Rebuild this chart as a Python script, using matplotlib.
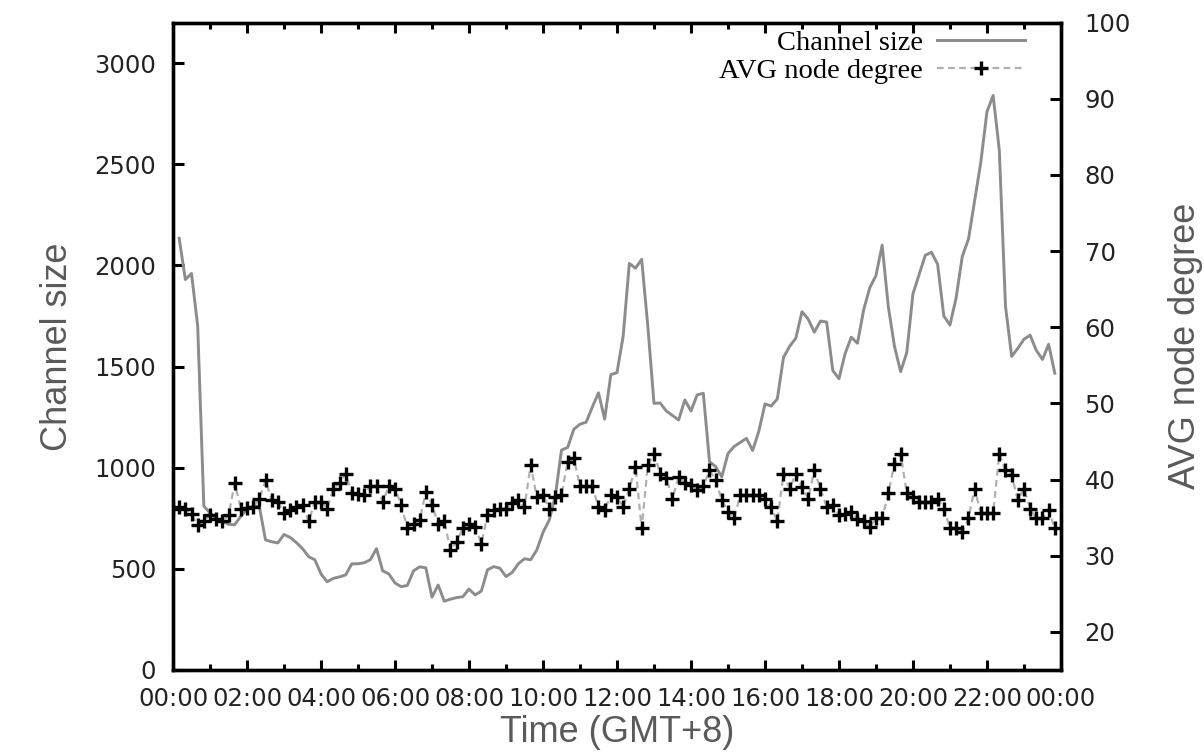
import numpy as np
import matplotlib
matplotlib.use("Agg")
import matplotlib.pyplot as plt
from matplotlib.ticker import MultipleLocator

# samples every 10 minutes, 00:00 .. 23:50
hours = np.arange(144) / 6.0

channel_size = [
    np.nan, 2134, 1930, 1960, 1700, 810, 776, 750, 735, 720,
    718, 760, 795, 810, 808, 643, 634, 628, 670, 655,
    630, 600, 560, 545, 475, 436, 453, 460, 470, 525,
    525, 530, 545, 600, 490, 475, 430, 412, 418, 490,
    510, 505, 360, 420, 340, 350, 358, 362, 400, 371,
    390, 495, 511, 503, 462, 482, 525, 550, 545, 593,
    680, 740, 860, 1087, 1100, 1190, 1215, 1225, 1300, 1370,
    1240, 1460, 1470, 1650, 2010, 1986, 2030, 1700, 1318, 1320,
    1280, 1258, 1236, 1335, 1280, 1360, 1368, 1030, 1005, 955,
    1070, 1105, 1125, 1145, 1085, 1180, 1315, 1305, 1340, 1545,
    1600, 1640, 1771, 1735, 1670, 1725, 1720, 1480, 1440, 1565,
    1645, 1615, 1780, 1890, 1950, 2100, 1796, 1600, 1475, 1570,
    1860, 1955, 2050, 2065, 2005, 1750, 1705, 1840, 2045, 2130,
    2320, 2510, 2760, 2840, 2570, 1800, 1550, 1590, 1635, 1655,
    1580, 1535, 1610, 1467,
]

avg_degree = [
    36.2, 36.4, 36.2, 35.5, 34.0, 34.6, 35.3, 34.8, 34.5, 35.3,
    39.5, 36.2, 36.3, 36.4, 37.5, 39.9, 37.3, 37.1, 35.6, 36.0,
    36.4, 36.7, 34.5, 37.1, 37.1, 36.2, 38.8, 39.5, 40.8, 38.2,
    38.1, 38.0, 39.1, 39.1, 37.1, 39.1, 38.8, 36.7, 33.6, 34.2,
    34.7, 38.4, 36.7, 34.2, 34.5, 30.7, 31.8, 33.6, 34.2, 33.8,
    31.6, 35.3, 36.0, 36.1, 36.2, 36.9, 37.3, 36.4, 41.9, 37.7,
    38.0, 36.2, 37.7, 38.0, 42.3, 42.8, 39.1, 39.1, 39.1, 36.4,
    36.0, 38.0, 37.7, 36.4, 38.8, 41.7, 33.6, 41.9, 43.4, 40.8,
    40.2, 37.5, 40.4, 39.5, 39.3, 38.6, 39.1, 41.2, 39.9, 37.3,
    35.8, 34.9, 38.0, 38.0, 38.0, 38.0, 37.5, 36.4, 34.5, 40.8,
    38.8, 40.8, 39.0, 37.5, 41.2, 38.8, 36.4, 36.7, 35.3, 35.5,
    35.8, 34.8, 34.5, 33.8, 34.9, 34.9, 38.2, 42.1, 43.4, 38.2,
    37.7, 37.1, 37.1, 37.1, 37.5, 36.2, 33.6, 33.6, 33.1, 34.9,
    38.8, 35.6, 35.6, 35.6, 43.4, 41.2, 40.6, 37.3, 38.8, 36.2,
    34.9, 34.9, 36.0, 33.6,
]

xtick_hours = list(range(0, 25, 2))
xtick_labels = ["00:00", "02:00", "04:00", "06:00", "08:00", "10:00", "12:00",
                "14:00", "16:00", "18:00", "20:00", "22:00", "00:00"]
left_ticks = [0, 500, 1000, 1500, 2000, 2500, 3000]
right_ticks = [20, 30, 40, 50, 60, 70, 80, 90, 100]

tick_font = {"family": "DejaVu Sans", "size": 17.5}
label_font = {"family": "Liberation Sans", "size": 26}
label_color = "#5a5a5a"

fig = plt.figure(figsize=(12.04, 7.55), dpi=100)
ax = fig.add_axes([0.1437, 0.1126, 0.7375, 0.8574])
ax2 = ax.twinx()

l1, = ax.plot(hours, channel_size, color="#8c8c8c", lw=2.1, label="Channel size")
l2, = ax2.plot(hours, avg_degree, color="#b0b0b0", lw=1.6, ls=(0, (3, 2)),
               marker="+", ms=10, mew=2.4, mec="black", label="AVG node degree")

ax.set_xlim(0, 24)
ax.set_ylim(0, 3200)
ax2.set_ylim(15, 100)

ax.set_xticks(xtick_hours)
ax.set_xticklabels(xtick_labels, fontdict=tick_font, color="#222222")
ax.xaxis.set_minor_locator(MultipleLocator(1))
ax.set_yticks(left_ticks)
ax.set_yticklabels([str(v) for v in left_ticks], fontdict=tick_font, color="#222222")
ax2.set_yticks(right_ticks)
ax2.set_yticklabels([str(v) for v in right_ticks], fontdict=tick_font, color="#222222")

ax.tick_params(axis="x", which="both", direction="in", top=True, width=2.2, pad=12)
ax.tick_params(axis="x", which="major", length=7)
ax.tick_params(axis="x", which="minor", length=4)
ax.tick_params(axis="y", direction="in", right=False, length=8, width=2.2, pad=12)
ax2.tick_params(axis="y", direction="in", length=8, width=2.2, pad=17)

for a in (ax, ax2):
    for sp in a.spines.values():
        sp.set_linewidth(2.4)
        sp.set_color("black")

ax.set_xlabel("Time (GMT+8)", fontdict=label_font, color=label_color, labelpad=3)
ax.set_ylabel("Channel size", fontdict=label_font, color=label_color, labelpad=14)
ax2.set_ylabel("AVG node degree", fontdict=label_font, color=label_color, labelpad=27)

leg = ax2.legend([l1, l2], ["Channel size", "AVG node degree"], loc="upper right",
                 bbox_to_anchor=(0.9595, 0.988), frameon=False, markerfirst=False,
                 handlelength=3.1, handletextpad=0.5, labelspacing=0.05,
                 borderaxespad=0.0, borderpad=0.0,
                 prop={"family": "Liberation Serif", "size": 20.5})
# right-justify the legend rows, gnuplot style
for col in leg._legend_handle_box.get_children():
    col.align = "right"

fig.savefig("out.png", dpi=100)
